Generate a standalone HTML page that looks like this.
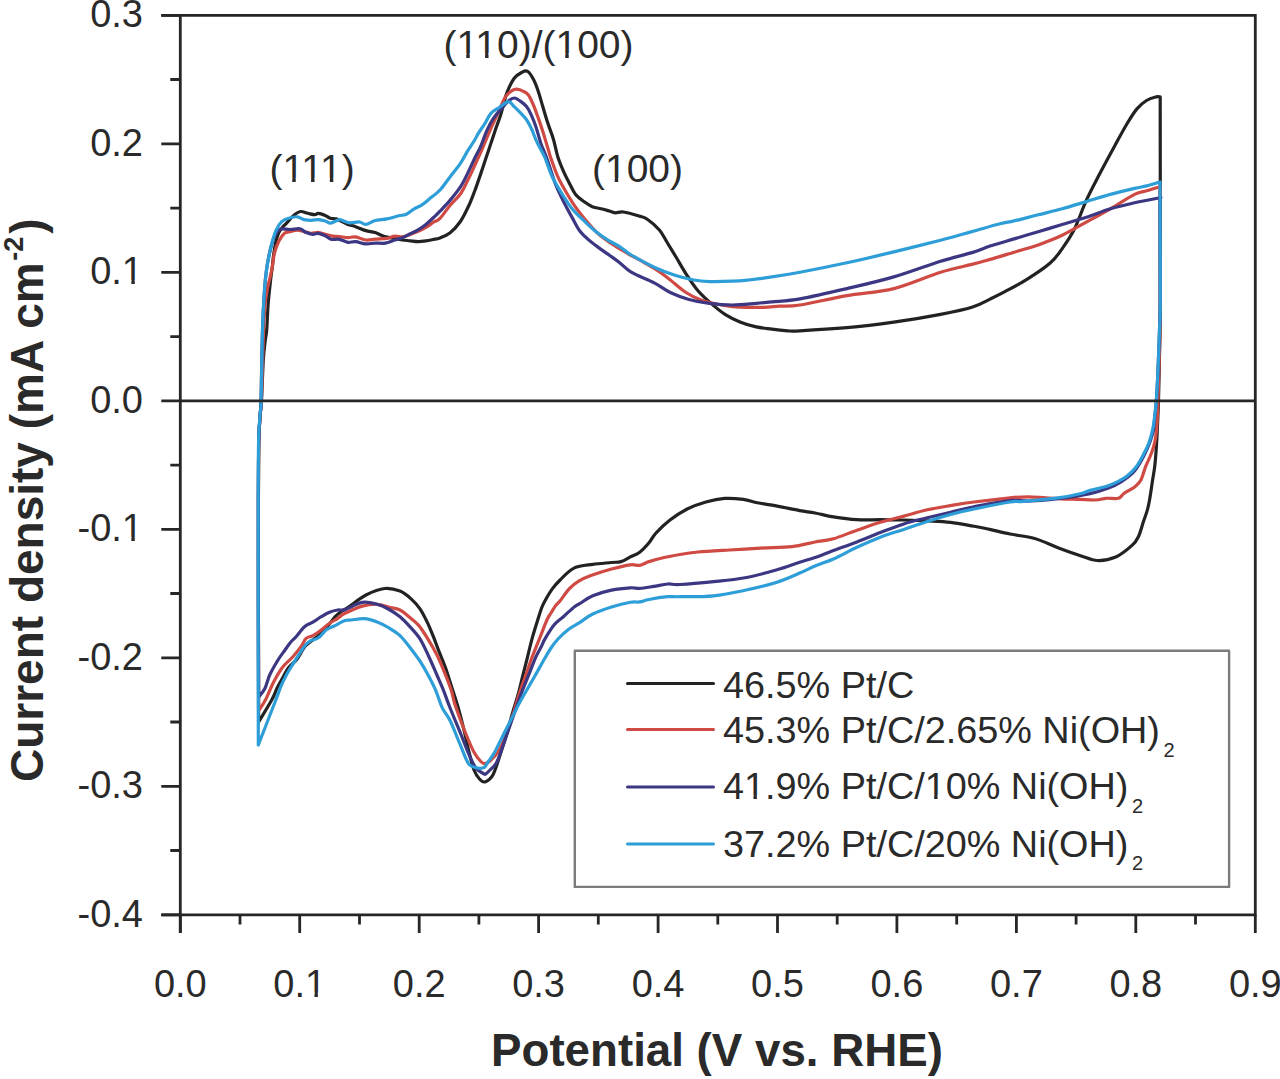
<!DOCTYPE html>
<html><head><meta charset="utf-8"><style>
html,body{margin:0;padding:0;background:#fff;}
svg{display:block;}
text{font-family:"Liberation Sans",sans-serif;fill:#2a2a2a;}
</style></head><body>
<svg width="1280" height="1079" viewBox="0 0 1280 1079">
<rect width="1280" height="1079" fill="#fff"/>
<g fill="none" stroke-linejoin="round" stroke-linecap="round" stroke-width="3.2">
<path d="M258.6,722.0C258.6,701.7 258.4,637.0 258.4,600.0C258.4,563.0 258.3,526.7 258.4,500.0C258.5,473.3 258.5,454.2 258.8,440.0C259.1,425.8 259.8,421.7 260.2,415.0C260.6,408.3 261.0,409.2 261.5,400.0C262.0,390.8 262.7,370.0 263.3,360.0C263.9,350.0 264.7,345.0 265.3,340.0C265.9,335.0 266.2,336.3 266.7,330.0C267.2,323.7 267.6,310.5 268.3,302.2C269.0,293.9 270.0,285.7 270.6,280.0C271.2,274.3 271.7,272.2 272.2,268.0C272.7,263.8 273.0,259.2 273.6,255.0C274.2,250.8 274.8,246.7 275.6,243.0C276.4,239.3 277.4,235.7 278.6,233.0C279.9,230.3 281.8,228.2 283.1,226.6C284.4,224.9 284.8,225.0 286.6,223.1C288.4,221.2 291.4,217.3 293.7,215.4C296.0,213.5 298.4,211.8 300.7,211.5C303.0,211.2 305.3,212.8 307.7,213.3C310.1,213.8 313.0,214.7 314.8,214.7C316.6,214.7 316.6,213.2 318.3,213.3C320.1,213.4 323.3,214.6 325.3,215.4C327.3,216.2 328.4,217.6 330.2,218.2C332.0,218.8 334.1,218.4 335.9,218.9C337.7,219.4 339.0,220.1 341.0,221.0C343.0,221.9 345.4,223.5 347.8,224.4C350.2,225.3 352.6,225.7 355.6,226.7C358.6,227.7 362.5,229.6 365.8,230.6C369.1,231.6 372.1,231.6 375.2,232.6C378.3,233.6 381.2,235.5 384.5,236.5C387.8,237.5 391.7,237.8 394.7,238.4C397.7,239.0 399.9,239.6 402.5,240.0C405.1,240.4 407.7,240.5 410.3,240.8C412.9,241.1 415.5,241.6 418.1,241.6C420.7,241.6 423.4,241.2 425.9,240.8C428.4,240.5 430.6,240.0 433.0,239.5C435.4,239.0 437.1,239.0 440.0,237.9C442.9,236.8 446.8,235.5 450.2,232.8C453.6,230.1 457.3,225.9 460.4,221.5C463.4,217.1 466.1,211.4 468.5,206.3C470.9,201.2 472.6,196.4 474.7,191.0C476.8,185.6 478.9,179.0 480.8,173.6C482.7,168.2 484.2,163.4 485.9,158.3C487.6,153.2 489.5,147.7 491.0,143.1C492.5,138.5 493.4,135.7 495.0,130.9C496.6,126.1 498.9,120.5 500.9,114.2C502.8,108.0 504.5,99.4 506.7,93.4C508.9,87.4 511.7,81.8 514.2,78.3C516.7,74.8 519.5,73.7 521.7,72.5C523.9,71.3 525.5,70.2 527.5,71.3C529.5,72.4 531.6,75.8 533.4,79.2C535.2,82.6 536.9,87.2 538.4,91.7C539.9,96.2 541.1,100.8 542.6,105.9C544.1,111.1 545.8,117.0 547.6,122.6C549.4,128.1 551.7,133.5 553.4,139.2C555.1,144.9 556.1,151.4 557.8,156.7C559.5,162.0 561.4,166.5 563.4,171.1C565.4,175.7 568.0,180.6 570.0,184.5C572.0,188.4 573.4,191.7 575.6,194.5C577.8,197.3 580.6,199.2 583.4,201.2C586.2,203.2 589.1,205.4 592.3,206.7C595.4,208.0 599.3,208.2 602.3,209.0C605.3,209.8 607.9,210.6 610.1,211.2C612.3,211.8 613.4,212.7 615.6,212.8C617.8,212.9 619.5,211.5 623.4,212.0C627.3,212.5 635.1,214.8 639.0,216.0C642.9,217.2 643.5,216.7 646.9,219.0C650.3,221.3 656.0,226.1 659.4,230.0C662.8,233.9 664.3,237.8 667.2,242.5C670.1,247.2 673.5,252.8 676.6,258.0C679.7,263.2 682.6,268.5 686.0,273.8C689.4,279.0 693.0,284.7 696.9,289.4C700.8,294.1 704.7,297.7 709.4,301.9C714.1,306.1 719.8,311.0 725.0,314.4C730.2,317.8 735.4,320.1 740.6,322.2C745.8,324.3 751.0,325.7 756.2,326.9C761.5,328.1 766.7,328.5 771.9,329.2C777.1,329.9 782.8,330.5 787.5,330.8C792.2,331.1 790.1,331.3 800.0,330.8C809.9,330.3 831.3,329.1 846.9,327.7C862.5,326.3 878.1,324.4 893.8,322.2C909.4,320.0 927.6,316.9 940.6,314.4C953.6,311.9 963.7,309.9 971.9,307.3C980.1,304.8 984.6,301.7 990.0,299.1C995.4,296.5 998.4,295.1 1004.4,291.9C1010.4,288.7 1018.5,284.7 1026.1,279.9C1033.7,275.1 1044.2,268.2 1050.2,263.0C1056.2,257.8 1058.2,254.2 1062.2,248.6C1066.2,243.0 1070.3,237.3 1074.3,229.3C1078.3,221.3 1082.3,209.2 1086.3,200.4C1090.3,191.6 1093.6,185.5 1098.4,176.3C1103.2,167.1 1110.4,153.8 1115.2,145.0C1120.0,136.2 1123.7,129.3 1127.3,123.3C1130.9,117.3 1133.7,112.7 1136.9,108.9C1140.1,105.1 1143.3,102.5 1146.5,100.5C1149.7,98.5 1153.8,97.5 1156.1,96.9C1158.4,96.3 1159.5,96.9 1160.2,96.9C1160.2,130.8 1160.4,257.8 1160.3,300.0C1160.2,342.2 1159.9,333.3 1159.6,350.0C1159.3,366.7 1158.8,387.5 1158.5,400.0C1158.2,412.5 1157.8,418.1 1157.5,425.0C1157.2,431.9 1157.1,435.1 1156.7,441.7C1156.3,448.3 1155.6,458.5 1154.9,464.9C1154.2,471.3 1153.4,474.7 1152.6,480.0C1151.8,485.3 1150.9,491.8 1150.1,496.7C1149.3,501.6 1148.7,505.0 1147.6,509.2C1146.5,513.4 1144.9,517.1 1143.4,521.7C1141.9,526.3 1140.3,532.8 1138.4,536.7C1136.5,540.7 1135.8,542.0 1132.0,545.4C1128.2,548.8 1121.6,554.5 1115.8,557.0C1110.0,559.5 1103.1,560.7 1097.3,560.5C1091.5,560.3 1087.7,558.0 1081.1,555.9C1074.5,553.8 1065.6,550.6 1057.9,547.7C1050.2,544.8 1042.7,540.8 1034.7,538.5C1026.7,536.2 1017.5,535.5 1010.0,534.0C1002.5,532.5 995.7,530.7 989.7,529.4C983.7,528.1 980.5,527.4 974.0,526.2C967.5,525.1 958.4,523.2 950.6,522.3C942.8,521.4 935.0,521.2 927.2,520.8C919.4,520.4 911.6,520.2 903.8,520.0C895.9,519.8 888.1,519.8 880.3,519.7C872.5,519.7 864.7,520.2 856.9,519.7C849.1,519.2 840.4,518.0 833.4,516.9C826.4,515.8 820.6,514.0 815.0,513.0C809.4,511.9 806.2,511.8 799.7,510.6C793.2,509.4 783.3,507.2 776.2,505.9C769.2,504.6 763.0,503.9 757.5,502.8C752.0,501.7 748.9,500.1 743.4,499.4C737.9,498.7 731.0,498.0 724.7,498.4C718.5,498.8 712.1,500.2 705.9,502.0C699.6,503.8 693.2,506.0 687.2,509.0C681.2,512.0 675.2,516.0 670.0,520.0C664.8,524.0 659.5,529.2 656.0,533.0C652.5,536.8 651.7,539.6 649.0,542.8C646.3,546.0 642.8,549.9 639.7,552.2C636.6,554.6 633.4,555.3 630.3,556.9C627.2,558.5 624.1,560.7 621.0,561.6C617.9,562.5 616.2,562.0 611.5,562.5C606.8,563.0 599.0,563.5 592.8,564.4C586.5,565.3 579.5,565.5 574.0,568.1C568.5,570.7 563.7,576.5 560.1,580.0C556.5,583.5 554.5,585.9 552.3,588.9C550.1,591.9 548.4,594.8 546.7,597.8C545.0,600.8 543.5,603.3 542.0,607.0C540.5,610.7 539.4,614.7 537.7,620.0C536.1,625.3 533.8,632.4 532.1,638.6C530.4,644.8 529.0,650.9 527.5,657.1C526.0,663.3 524.3,669.5 522.8,675.7C521.2,681.9 519.9,688.0 518.2,694.2C516.5,700.4 514.5,706.3 512.6,712.8C510.7,719.3 508.9,726.6 507.0,733.0C505.1,739.4 503.5,744.4 501.2,751.4C498.9,758.4 495.7,769.7 493.0,774.8C490.3,779.9 487.1,781.2 484.9,781.9C482.6,782.6 481.3,781.0 479.5,779.0C477.7,777.0 475.8,774.5 474.0,770.0C472.2,765.5 470.7,758.7 469.0,752.0C467.3,745.3 465.8,737.5 464.0,730.0C462.2,722.5 460.0,714.0 458.0,707.0C456.0,700.0 453.9,694.0 452.0,688.0C450.1,682.0 448.1,675.5 446.7,671.2C445.3,666.9 444.7,665.6 443.4,662.3C442.1,659.0 440.6,655.5 438.9,651.2C437.2,646.9 435.2,641.3 433.4,636.7C431.5,632.1 430.0,628.0 427.8,623.4C425.6,618.8 422.8,613.0 420.0,608.9C417.2,604.8 414.4,601.9 411.1,598.9C407.8,595.9 404.4,592.8 400.0,591.1C395.6,589.4 390.3,587.9 384.6,588.5C378.9,589.1 371.8,592.1 366.0,595.0C360.2,597.9 354.2,603.2 350.0,606.0C345.8,608.8 343.1,610.2 340.6,612.0C338.1,613.8 337.2,614.5 335.0,616.9C332.8,619.3 330.2,623.3 327.3,626.5C324.4,629.7 321.3,632.9 317.7,636.1C314.1,639.3 309.0,642.0 305.6,645.8C302.2,649.6 300.0,655.4 297.2,659.0C294.4,662.6 291.3,664.0 288.7,667.5C286.1,671.0 283.4,676.6 281.5,680.0C279.6,683.4 278.8,684.5 277.2,687.8C275.6,691.1 274.8,694.3 271.7,700.0C268.6,705.7 260.8,718.3 258.6,722.0" stroke="#222"/>
<path d="M258.6,711.0C258.6,692.5 258.4,635.2 258.4,600.0C258.4,564.8 258.3,526.7 258.4,500.0C258.5,473.3 258.5,454.2 258.8,440.0C259.1,425.8 259.8,421.7 260.2,415.0C260.6,408.3 261.0,412.5 261.5,400.0C262.0,387.5 262.6,355.8 263.2,340.0C263.8,324.2 264.3,313.7 265.0,305.0C265.7,296.3 266.6,292.7 267.5,288.0C268.4,283.3 269.3,280.8 270.2,277.0C271.1,273.2 271.9,269.0 272.6,265.0C273.3,261.0 273.4,257.0 274.5,253.0C275.6,249.0 277.2,244.4 278.9,241.1C280.6,237.8 282.6,234.9 284.5,233.3C286.4,231.7 288.1,232.1 290.2,231.6C292.3,231.1 294.9,230.2 297.2,230.2C299.5,230.2 301.8,231.1 304.2,231.6C306.6,232.1 308.9,233.2 311.3,233.3C313.7,233.4 316.0,232.1 318.3,232.3C320.6,232.5 323.0,233.8 325.3,234.4C327.6,235.0 330.0,235.8 332.4,236.1C334.8,236.4 336.8,236.2 339.4,236.5C342.0,236.8 345.1,237.6 347.8,237.7C350.5,237.8 352.6,236.5 355.6,236.9C358.6,237.3 362.5,239.6 365.8,240.0C369.1,240.4 371.7,239.5 375.2,239.2C378.7,238.9 383.6,238.9 386.9,238.4C390.1,237.9 392.1,236.3 394.7,236.1C397.3,235.8 399.9,237.2 402.5,236.9C405.1,236.6 407.7,235.4 410.3,234.5C412.9,233.6 415.5,232.6 418.1,231.4C420.7,230.2 423.3,229.1 425.9,227.5C428.5,225.9 431.4,223.5 433.8,222.0C436.1,220.5 437.3,221.2 440.0,218.4C442.7,215.6 446.8,209.3 450.2,205.2C453.6,201.1 457.5,198.1 460.4,194.0C463.3,189.9 465.1,185.6 467.5,180.8C469.9,176.1 472.5,170.3 474.7,165.5C476.9,160.7 478.9,156.4 480.8,152.2C482.7,147.9 484.2,144.0 485.9,140.0C487.6,136.0 489.0,132.7 490.9,128.4C492.8,124.1 495.1,119.4 497.5,114.2C499.9,109.0 502.6,101.4 505.0,97.5C507.4,93.6 509.8,92.3 511.7,90.9C513.6,89.5 514.8,89.1 516.7,89.2C518.7,89.3 521.5,90.3 523.4,91.3C525.3,92.3 526.7,92.7 528.4,95.0C530.1,97.3 531.7,101.1 533.4,105.0C535.1,108.9 536.7,113.7 538.4,118.4C540.1,123.1 541.7,128.1 543.4,133.4C545.1,138.7 547.1,145.8 548.4,150.0C549.7,154.2 549.5,154.5 551.1,158.9C552.7,163.3 555.4,171.3 557.8,176.7C560.2,182.1 562.8,186.4 565.6,191.2C568.4,196.0 571.2,200.8 574.5,205.6C577.8,210.4 581.9,215.6 585.6,220.1C589.3,224.6 593.0,228.8 596.7,232.3C600.4,235.8 604.0,238.4 607.9,241.2C611.8,244.0 616.1,246.6 620.0,249.0C623.9,251.4 627.1,253.2 631.2,255.5C635.4,257.8 640.6,260.5 645.0,263.0C649.4,265.5 653.6,267.8 657.8,270.6C662.0,273.4 665.6,276.4 670.3,280.0C675.0,283.6 680.8,289.1 686.0,292.5C691.2,295.9 696.4,298.4 701.6,300.3C706.8,302.2 712.0,303.1 717.2,304.2C722.4,305.2 727.6,306.1 732.8,306.6C738.0,307.1 743.2,307.2 748.4,307.3C753.6,307.4 758.8,307.5 764.0,307.3C769.2,307.1 773.7,306.6 779.7,306.2C785.7,305.9 788.8,306.8 800.0,305.0C811.2,303.2 831.3,298.3 846.9,295.6C862.5,292.9 878.1,292.5 893.8,288.6C909.4,284.7 927.6,276.2 940.6,272.2C953.6,268.2 963.7,266.5 971.9,264.4C980.1,262.3 983.0,261.4 990.0,259.4C997.0,257.4 1006.1,254.6 1014.1,252.2C1022.1,249.8 1030.2,247.7 1038.2,244.9C1046.2,242.1 1054.2,239.1 1062.2,235.3C1070.2,231.5 1078.3,226.5 1086.3,222.1C1094.3,217.7 1102.4,213.4 1110.4,208.8C1118.4,204.2 1128.5,197.4 1134.5,194.4C1140.5,191.4 1142.5,192.0 1146.5,190.8C1150.5,189.6 1156.3,187.8 1158.6,187.2C1160.8,186.6 1159.8,187.0 1160.0,187.0C1160.0,205.8 1160.3,274.5 1160.3,300.0C1160.3,325.5 1160.1,326.7 1159.8,340.0C1159.5,353.3 1158.9,368.4 1158.6,380.0C1158.2,391.6 1158.0,401.3 1157.7,409.3C1157.4,417.3 1157.2,422.4 1156.7,427.8C1156.2,433.2 1155.8,437.4 1154.9,441.7C1154.0,446.0 1152.8,449.6 1151.2,453.8C1149.7,458.0 1147.3,462.3 1145.6,466.7C1143.9,471.1 1142.7,476.7 1140.9,480.0C1139.1,483.3 1137.8,484.5 1135.0,486.7C1132.2,488.9 1127.0,491.4 1124.2,493.3C1121.4,495.2 1121.5,497.5 1118.4,498.3C1115.4,499.1 1109.8,498.0 1105.9,498.3C1102.0,498.6 1101.1,499.9 1095.0,500.0C1088.9,500.1 1077.6,499.5 1069.5,499.1C1061.4,498.8 1053.2,498.3 1046.3,497.9C1039.3,497.5 1033.8,496.8 1027.8,496.8C1021.8,496.8 1019.0,496.9 1010.0,497.8C1001.0,498.7 983.9,500.7 974.0,502.0C964.1,503.3 958.4,504.3 950.6,505.6C942.8,506.9 935.0,508.1 927.2,509.8C919.4,511.6 911.6,514.0 903.8,516.1C895.9,518.2 888.1,519.9 880.3,522.3C872.5,524.6 864.7,527.5 856.9,530.2C849.1,532.9 840.4,536.8 833.4,538.8C826.4,540.7 821.9,540.7 815.0,542.0C808.1,543.3 801.0,545.6 791.9,546.6C782.8,547.6 771.0,547.5 760.6,548.1C750.2,548.7 739.8,549.4 729.4,550.0C719.0,550.6 706.3,551.2 698.1,552.0C689.9,552.8 685.8,553.5 680.0,554.5C674.2,555.5 668.3,556.6 663.1,557.8C657.9,559.0 652.9,560.4 649.0,561.6C645.1,562.9 642.8,564.8 639.7,565.3C636.6,565.8 635.0,564.2 630.3,564.8C625.6,565.4 618.1,567.2 611.5,569.0C604.9,570.8 596.4,573.6 590.9,575.6C585.4,577.6 582.3,579.0 578.7,581.2C575.1,583.4 572.5,585.4 569.4,588.7C566.3,592.0 562.3,598.1 560.0,600.9C557.7,603.7 557.1,603.6 555.6,605.6C554.1,607.6 552.5,610.6 551.0,613.0C549.5,615.4 548.8,615.7 546.9,620.0C545.0,624.3 542.0,632.4 539.5,638.6C537.0,644.8 534.4,650.9 532.1,657.1C529.8,663.3 527.8,669.5 525.6,675.7C523.4,681.9 521.1,688.0 519.1,694.2C517.1,700.4 515.8,706.0 513.6,712.8C511.4,719.6 508.6,728.5 506.0,735.0C503.4,741.5 500.7,747.7 498.0,752.0C495.3,756.3 492.2,759.1 490.0,761.0C487.8,762.9 486.4,763.5 484.9,763.6C483.4,763.7 482.7,763.5 480.8,761.5C478.9,759.5 476.2,756.1 473.6,751.4C471.1,746.6 468.6,740.6 465.5,733.0C462.4,725.4 457.7,712.6 455.3,705.5C452.9,698.4 453.0,695.6 451.2,690.1C449.4,684.6 446.9,678.2 444.5,672.3C442.1,666.4 439.5,660.1 436.7,654.5C433.9,648.9 430.8,643.7 427.8,638.9C424.8,634.1 422.0,629.3 418.9,625.6C415.8,621.9 412.0,619.3 408.9,616.7C405.8,614.1 403.4,611.6 400.0,610.0C396.6,608.4 392.1,608.0 388.3,607.0C384.5,606.0 381.5,604.4 377.2,604.3C372.9,604.1 367.7,604.6 362.3,606.1C356.9,607.6 349.1,611.3 345.0,613.3C340.9,615.3 340.4,616.6 337.8,618.3C335.2,620.0 332.3,621.3 329.5,623.3C326.7,625.2 324.0,628.0 321.2,630.0C318.4,632.0 315.3,634.2 312.8,635.6C310.3,637.0 308.0,636.7 306.1,638.4C304.2,640.1 303.8,642.6 301.7,645.6C299.6,648.6 296.1,653.1 293.3,656.2C290.5,659.4 287.1,662.3 285.0,664.5C282.9,666.7 282.9,666.3 281.0,669.3C279.1,672.2 276.1,677.1 273.5,682.2C270.9,687.3 267.9,695.2 265.4,700.0C262.9,704.8 259.7,709.2 258.6,711.0" stroke="#d04a44"/>
<path d="M258.6,697.0C258.6,680.8 258.4,632.8 258.4,600.0C258.4,567.2 258.3,526.7 258.4,500.0C258.5,473.3 258.5,454.2 258.8,440.0C259.1,425.8 259.7,421.7 260.1,415.0C260.5,408.3 260.6,414.2 261.0,400.0C261.4,385.8 261.9,348.3 262.5,330.0C263.1,311.7 263.8,300.0 264.5,290.0C265.2,280.0 265.7,275.8 266.5,270.0C267.3,264.2 268.1,259.7 269.1,255.0C270.1,250.3 271.4,245.4 272.4,242.0C273.4,238.6 274.3,236.4 275.3,234.5C276.3,232.6 277.2,231.4 278.3,230.5C279.4,229.6 279.7,229.0 281.7,228.8C283.7,228.6 287.1,229.5 290.2,229.5C293.2,229.5 297.4,228.3 300.0,228.8C302.6,229.3 303.5,231.4 305.6,232.3C307.7,233.2 310.6,234.2 312.7,234.4C314.8,234.6 316.2,233.1 318.3,233.3C320.4,233.5 323.2,234.8 325.3,235.8C327.4,236.8 328.6,238.7 331.0,239.3C333.4,239.9 336.6,238.8 339.4,239.3C342.2,239.8 345.1,241.9 347.8,242.3C350.5,242.7 352.6,241.3 355.6,241.6C358.6,241.9 362.5,243.7 365.8,243.9C369.1,244.2 371.9,243.2 375.2,243.1C378.4,243.0 382.1,243.6 385.3,243.1C388.6,242.6 391.8,240.9 394.7,240.0C397.6,239.1 399.9,238.7 402.5,237.7C405.1,236.7 407.7,235.1 410.3,233.8C412.9,232.4 415.5,231.4 418.1,229.8C420.7,228.2 423.3,226.5 425.9,224.4C428.5,222.3 431.4,219.5 433.8,217.3C436.1,215.1 437.3,214.1 440.0,211.2C442.7,208.3 446.8,204.1 450.2,200.1C453.6,196.1 457.5,191.3 460.4,186.9C463.3,182.5 465.1,178.4 467.5,173.6C469.9,168.8 472.5,162.9 474.7,158.3C476.9,153.7 478.8,150.7 480.8,146.1C482.8,141.5 484.6,135.5 486.7,130.9C488.8,126.3 490.9,122.2 493.4,118.4C495.9,114.7 499.2,111.3 501.7,108.4C504.2,105.5 506.3,102.6 508.4,100.9C510.5,99.2 512.3,98.0 514.2,98.0C516.1,98.0 517.9,99.5 520.0,100.9C522.1,102.4 524.9,104.5 526.7,106.7C528.5,108.9 529.4,110.9 530.9,114.2C532.4,117.5 534.2,121.8 535.9,126.7C537.6,131.6 539.1,138.2 540.9,143.4C542.7,148.6 544.2,151.2 546.7,158.0C549.2,164.8 552.8,177.3 555.6,184.5C558.4,191.7 560.6,195.6 563.4,201.2C566.2,206.8 569.5,212.9 572.3,217.9C575.1,222.9 577.2,227.5 580.0,231.2C582.8,234.9 585.8,237.3 589.0,240.1C592.2,242.9 595.5,245.3 599.0,247.9C602.5,250.5 606.6,253.2 610.1,255.7C613.6,258.2 616.5,260.2 620.0,263.0C623.5,265.8 625.5,268.8 631.2,272.2C637.0,275.6 648.2,279.7 654.7,283.1C661.2,286.5 664.6,289.8 670.3,292.5C676.0,295.2 682.5,297.7 689.0,299.5C695.5,301.3 702.1,302.5 709.4,303.4C716.7,304.3 725.0,305.0 732.8,305.0C740.6,305.0 749.7,303.9 756.2,303.4C762.8,302.9 764.6,302.7 771.9,301.9C779.2,301.1 787.5,301.0 800.0,298.8C812.5,296.5 831.3,292.2 846.9,288.6C862.5,285.0 878.1,281.5 893.8,276.9C909.4,272.3 927.6,265.3 940.6,261.2C953.6,257.2 963.7,255.1 971.9,252.6C980.1,250.1 983.0,248.4 990.0,246.1C997.0,243.8 1006.1,241.3 1014.1,238.9C1022.1,236.5 1030.2,234.1 1038.2,231.7C1046.2,229.3 1054.2,226.9 1062.2,224.5C1070.2,222.1 1078.3,219.9 1086.3,217.3C1094.3,214.7 1102.4,211.2 1110.4,208.8C1118.4,206.4 1126.5,204.6 1134.5,202.8C1142.5,201.0 1154.3,198.8 1158.6,198.0C1162.8,197.2 1159.8,198.0 1160.0,198.0C1160.0,215.0 1160.4,278.0 1160.3,300.0C1160.2,322.0 1159.9,318.3 1159.5,330.0C1159.1,341.7 1158.5,358.2 1158.0,370.0C1157.5,381.8 1156.9,392.7 1156.3,401.0C1155.7,409.3 1155.0,414.8 1154.5,420.0C1154.0,425.2 1154.2,427.7 1153.0,432.4C1151.8,437.1 1149.7,443.1 1147.5,448.2C1145.3,453.3 1142.5,458.8 1140.0,463.0C1137.5,467.2 1135.7,470.1 1132.6,473.2C1129.5,476.3 1125.5,479.1 1121.5,481.6C1117.5,484.1 1113.8,486.0 1108.5,488.0C1103.2,490.0 1098.1,491.9 1090.0,493.6C1081.9,495.4 1070.0,497.3 1060.0,498.5C1050.0,499.7 1038.3,500.7 1030.0,501.0C1021.7,501.3 1019.3,499.6 1010.0,500.5C1000.7,501.4 983.9,504.8 974.0,506.7C964.1,508.6 958.4,510.4 950.6,512.2C942.8,514.0 935.0,515.8 927.2,517.7C919.4,519.7 911.6,521.4 903.8,523.9C895.9,526.4 888.1,529.5 880.3,532.5C872.5,535.5 864.7,538.9 856.9,541.9C849.1,544.9 840.4,547.9 833.4,550.5C826.4,553.1 820.6,555.5 815.0,557.5C809.4,559.5 806.2,560.1 799.7,562.2C793.2,564.3 785.4,567.4 776.2,570.0C767.1,572.6 755.4,575.8 745.0,577.8C734.6,579.8 724.6,580.6 713.8,581.7C702.9,582.8 687.7,584.1 680.0,584.5C672.3,584.9 672.2,583.7 667.8,584.0C663.4,584.3 658.4,585.7 653.7,586.4C649.0,587.1 643.6,588.1 639.7,588.3C635.8,588.5 635.0,587.5 630.3,587.8C625.6,588.1 617.8,588.8 611.5,590.1C605.2,591.4 598.0,593.6 592.8,595.8C587.5,598.0 583.0,601.6 580.0,603.4C577.0,605.2 577.3,604.5 574.5,606.7C571.7,608.9 566.8,613.7 563.4,616.7C560.0,619.7 557.4,620.9 554.4,624.5C551.4,628.1 547.3,634.9 545.1,638.6C542.9,642.3 542.8,643.6 541.2,646.7C539.7,649.8 537.9,652.3 535.8,657.1C533.7,661.9 530.9,669.5 528.4,675.7C525.9,681.9 523.3,688.0 521.0,694.2C518.7,700.4 517.0,705.8 514.5,712.8C512.0,719.8 509.2,728.0 506.3,736.1C503.4,744.2 499.8,755.9 497.1,761.5C494.4,767.1 491.9,768.0 490.0,770.0C488.1,772.0 486.9,773.2 485.9,773.8C484.9,774.4 485.5,774.8 483.8,773.8C482.1,772.8 478.2,771.1 475.7,767.7C473.1,764.3 471.1,759.2 468.5,753.4C465.9,747.6 463.6,740.8 460.4,733.0C457.2,725.2 452.3,713.6 449.5,706.5C446.7,699.4 445.5,695.4 443.4,690.1C441.3,684.8 439.1,680.1 436.7,674.5C434.3,668.9 431.7,662.6 428.9,656.7C426.1,650.8 423.3,644.1 420.0,638.9C416.7,633.7 412.2,629.3 408.9,625.6C405.6,621.9 403.4,619.5 400.0,616.7C396.6,613.9 392.1,611.1 388.3,609.0C384.5,606.9 381.5,605.4 377.2,604.3C372.9,603.2 367.7,601.5 362.3,602.4C356.9,603.3 349.1,608.3 345.0,609.6C340.9,610.9 340.4,609.6 337.8,610.0C335.2,610.4 332.3,611.1 329.5,612.2C326.7,613.3 324.0,615.0 321.2,616.7C318.4,618.4 315.6,620.5 312.8,622.2C310.0,623.9 307.3,624.3 304.5,626.7C301.7,629.1 298.4,634.1 296.1,636.7C293.8,639.3 292.5,640.1 290.6,642.3C288.8,644.5 287.1,647.0 285.0,650.0C282.9,653.0 280.5,655.9 278.0,660.0C275.5,664.1 272.0,670.1 269.8,674.8C267.6,679.5 266.8,684.7 264.9,688.4C263.0,692.1 259.7,695.6 258.6,697.0" stroke="#3c3782"/>
<path d="M258.3,745.0C258.3,720.8 258.2,640.8 258.2,600.0C258.2,559.2 258.1,526.7 258.2,500.0C258.3,473.3 258.3,454.2 258.6,440.0C258.9,425.8 259.6,421.7 260.0,415.0C260.4,408.3 260.7,414.2 261.1,400.0C261.5,385.8 261.9,348.3 262.5,330.0C263.1,311.7 263.8,300.0 264.5,290.0C265.2,280.0 265.7,275.8 266.5,270.0C267.3,264.2 268.1,259.9 269.1,255.0C270.1,250.1 271.4,244.8 272.6,240.7C273.8,236.6 274.6,233.4 276.1,230.2C277.6,227.0 279.6,223.7 281.7,221.7C283.8,219.7 286.2,219.0 288.8,218.2C291.4,217.4 294.6,216.6 297.2,216.8C299.8,217.0 301.8,219.0 304.2,219.6C306.6,220.2 308.9,220.3 311.3,220.3C313.7,220.3 316.0,219.5 318.3,219.6C320.6,219.7 323.3,220.4 325.3,221.0C327.3,221.6 328.4,223.1 330.2,223.1C332.0,223.1 334.3,221.6 335.9,221.0C337.5,220.4 337.8,219.4 340.0,219.7C342.2,220.0 346.1,222.4 349.4,222.8C352.6,223.2 356.8,221.7 359.5,222.0C362.2,222.3 363.2,224.7 365.8,224.4C368.4,224.2 371.7,221.4 375.2,220.5C378.7,219.6 383.0,219.7 386.9,218.9C390.8,218.1 395.4,216.6 398.6,215.8C401.9,215.0 403.8,215.4 406.4,214.2C409.0,213.0 411.6,210.3 414.2,208.8C416.8,207.2 419.4,206.5 422.0,204.8C424.6,203.1 426.8,201.1 429.8,198.6C432.8,196.1 436.6,193.7 440.0,190.0C443.4,186.3 446.8,181.1 450.2,176.7C453.6,172.3 457.5,167.7 460.4,163.4C463.3,159.2 465.1,155.1 467.5,151.2C469.9,147.3 472.9,143.0 474.7,140.0C476.5,137.0 476.6,136.2 478.3,133.4C480.0,130.6 482.9,126.7 485.0,123.4C487.1,120.1 488.5,116.1 490.9,113.4C493.3,110.8 496.3,109.5 499.2,107.5C502.1,105.5 505.9,101.8 508.4,101.7C510.9,101.6 512.0,104.6 514.2,106.7C516.4,108.8 519.6,112.0 521.7,114.2C523.8,116.4 525.0,117.5 526.7,120.0C528.4,122.5 530.0,125.6 531.7,129.2C533.4,132.8 534.6,137.1 536.7,141.7C538.8,146.3 541.9,150.9 544.5,156.7C547.1,162.5 549.4,170.8 552.2,176.7C555.0,182.6 557.8,186.9 561.1,192.3C564.5,197.7 568.2,204.0 572.3,209.0C576.4,214.0 581.5,218.4 585.6,222.3C589.7,226.2 593.0,229.3 596.7,232.3C600.4,235.3 604.0,237.7 607.9,240.1C611.8,242.5 616.1,244.3 620.0,246.8C623.9,249.3 625.5,251.6 631.2,255.0C637.0,258.4 647.4,264.1 654.7,267.5C662.0,270.9 668.5,273.2 675.0,275.3C681.5,277.4 688.0,278.9 693.8,280.0C699.5,281.1 702.9,281.4 709.4,281.6C715.9,281.8 726.3,281.5 732.8,281.2C739.3,281.0 741.9,280.7 748.4,280.0C754.9,279.3 763.3,278.2 771.9,276.9C780.5,275.6 787.5,274.5 800.0,272.2C812.5,269.9 831.3,266.2 846.9,262.8C862.5,259.4 878.1,255.7 893.8,251.9C909.4,248.1 927.6,243.6 940.6,240.2C953.6,236.8 962.0,234.3 971.9,231.6C981.8,228.9 993.0,225.5 1000.0,223.8C1007.0,222.0 1007.7,222.4 1014.1,220.9C1020.5,219.4 1030.2,216.8 1038.2,214.8C1046.2,212.8 1054.2,211.0 1062.2,208.8C1070.2,206.6 1078.3,204.0 1086.3,201.6C1094.3,199.2 1102.4,196.6 1110.4,194.4C1118.4,192.2 1128.5,189.8 1134.5,188.4C1140.5,187.0 1142.5,186.9 1146.5,185.9C1150.5,184.9 1156.3,183.0 1158.6,182.3C1160.8,181.7 1159.8,182.1 1160.0,182.0C1160.0,201.7 1160.4,275.3 1160.3,300.0C1160.2,324.7 1159.9,318.3 1159.5,330.0C1159.1,341.7 1158.5,358.2 1158.0,370.0C1157.5,381.8 1156.8,393.7 1156.3,401.0C1155.8,408.3 1155.5,409.4 1154.9,413.9C1154.4,418.4 1153.9,423.2 1153.0,427.8C1152.1,432.4 1150.8,437.4 1149.3,441.7C1147.8,446.0 1146.0,449.6 1143.8,453.8C1141.6,458.0 1139.1,463.0 1136.3,466.7C1133.5,470.4 1130.2,473.5 1127.1,476.0C1124.0,478.5 1121.2,479.9 1117.8,481.6C1114.4,483.3 1111.3,484.7 1106.7,486.2C1102.1,487.7 1094.3,489.2 1090.0,490.4C1085.7,491.6 1086.4,492.2 1081.1,493.5C1075.8,494.8 1067.6,496.6 1057.9,497.9C1048.2,499.2 1031.2,500.7 1023.2,501.4C1015.2,502.1 1018.2,500.7 1010.0,502.0C1001.8,503.3 983.9,506.9 974.0,509.0C964.1,511.1 958.4,512.4 950.6,514.5C942.8,516.6 935.0,519.1 927.2,521.6C919.4,524.1 911.6,526.8 903.8,529.4C895.9,532.0 888.1,534.2 880.3,537.2C872.5,540.2 864.7,543.7 856.9,547.3C849.1,550.9 840.4,555.9 833.4,559.0C826.4,562.1 820.6,563.6 815.0,566.0C809.4,568.4 806.2,570.4 799.7,573.1C793.2,575.9 785.4,579.6 776.2,582.5C767.1,585.4 755.4,588.1 745.0,590.3C734.6,592.5 724.6,594.7 713.8,595.8C702.9,596.9 687.7,596.6 680.0,596.7C672.3,596.9 673.0,596.2 667.8,596.7C662.6,597.2 653.7,598.6 649.0,599.5C644.3,600.4 642.8,601.4 639.7,601.9C636.6,602.4 635.0,601.4 630.3,602.3C625.6,603.1 617.8,605.0 611.5,607.0C605.2,609.0 598.0,611.5 592.8,614.0C587.5,616.5 584.0,619.8 580.0,622.3C576.0,624.8 572.7,626.2 569.0,629.0C565.3,631.8 561.0,635.8 558.0,639.0C555.0,642.2 553.2,644.8 551.0,648.0C548.8,651.2 547.7,653.4 545.0,658.0C542.3,662.6 538.1,670.3 535.0,675.7C531.9,681.1 529.1,685.9 526.5,690.5C523.9,695.1 521.6,698.9 519.1,703.5C516.6,708.1 514.7,712.4 511.7,718.3C508.7,724.2 504.1,733.2 501.2,739.1C498.2,745.0 496.2,749.6 494.0,753.4C491.8,757.2 489.7,759.6 488.0,762.0C486.3,764.4 485.7,766.8 483.8,767.7C481.9,768.7 479.2,768.4 476.7,767.7C474.1,767.0 471.2,767.4 468.5,763.6C465.8,759.9 463.4,752.3 460.4,745.2C457.3,738.1 453.2,727.0 450.2,720.8C447.2,714.6 444.7,713.0 442.3,707.9C439.9,702.8 438.0,695.7 435.6,690.1C433.2,684.5 430.4,679.3 427.8,674.5C425.2,669.7 422.8,665.5 420.0,661.2C417.2,657.0 414.4,653.3 411.1,649.0C407.8,644.7 403.8,639.2 400.0,635.6C396.2,632.0 392.1,629.8 388.3,627.5C384.5,625.2 381.2,623.4 377.2,621.9C373.2,620.4 368.5,618.9 364.2,618.6C359.9,618.3 354.4,619.7 351.2,620.0C348.0,620.3 347.7,619.7 345.0,620.6C342.3,621.5 338.1,624.1 335.0,625.6C331.9,627.1 329.5,627.5 326.7,629.5C323.9,631.5 321.2,635.9 318.4,637.8C315.6,639.7 312.3,639.7 310.0,641.1C307.7,642.5 306.8,643.2 304.5,646.2C302.2,649.2 298.2,655.8 296.1,659.0C294.0,662.2 293.6,663.0 292.0,665.6C290.4,668.2 288.3,671.4 286.5,674.8C284.7,678.2 282.8,681.8 281.0,686.0C279.2,690.2 279.6,690.2 275.8,700.0C272.0,709.8 261.2,737.5 258.3,745.0" stroke="#2d9ed7"/>
</g>
<g stroke="#262626" stroke-width="2.8" fill="none" stroke-linecap="butt">
<path d="M161.3,15.3H1255.3V914.8H161.3M180.3,15.3V933M180.3,400.8H1255.3"/>
<path d="M161.3,15.3H180.3M161.3,143.8H180.3M161.3,272.3H180.3M161.3,400.8H180.3M161.3,529.3H180.3M161.3,657.8H180.3M161.3,786.3H180.3M161.3,914.8H180.3M170.3,79.5H180.3M170.3,208.1H180.3M170.3,336.6H180.3M170.3,465.1H180.3M170.3,593.5H180.3M170.3,722.0H180.3M170.3,850.5H180.3M180.3,914.8V933M299.7,914.8V933M419.2,914.8V933M538.6,914.8V933M658.1,914.8V933M777.5,914.8V933M896.9,914.8V933M1016.4,914.8V933M1135.8,914.8V933M1255.3,914.8V933M240.0,914.8V924.5M359.5,914.8V924.5M478.9,914.8V924.5M598.3,914.8V924.5M717.8,914.8V924.5M837.2,914.8V924.5M956.7,914.8V924.5M1076.1,914.8V924.5M1195.5,914.8V924.5"/>
</g>
<rect x="574.8" y="650.7" width="654.3" height="236.2" fill="#fff" stroke="#7c7c7c" stroke-width="2.4" stroke-linejoin="round"/>
<g stroke-width="3" stroke-linecap="round">
<path d="M627.5,683.4H713.5" stroke="#222"/>
<path d="M627.5,729.5H713.5" stroke="#d04a44"/>
<path d="M627.5,786.9H713.5" stroke="#3c3782"/>
<path d="M627.5,844.1H713.5" stroke="#2d9ed7"/>
</g>
<g font-size="38">
<text x="143" y="27.3" text-anchor="end">0.3</text><text x="143" y="155.8" text-anchor="end">0.2</text><text x="143" y="284.3" text-anchor="end">0.1</text><text x="143" y="412.8" text-anchor="end">0.0</text><text x="143" y="541.3" text-anchor="end">-0.1</text><text x="143" y="669.8" text-anchor="end">-0.2</text><text x="143" y="798.3" text-anchor="end">-0.3</text><text x="143" y="926.8" text-anchor="end">-0.4</text>
<text x="180.3" y="996.8" text-anchor="middle">0.0</text><text x="299.7" y="996.8" text-anchor="middle">0.1</text><text x="419.2" y="996.8" text-anchor="middle">0.2</text><text x="538.6" y="996.8" text-anchor="middle">0.3</text><text x="658.1" y="996.8" text-anchor="middle">0.4</text><text x="777.5" y="996.8" text-anchor="middle">0.5</text><text x="896.9" y="996.8" text-anchor="middle">0.6</text><text x="1016.4" y="996.8" text-anchor="middle">0.7</text><text x="1135.8" y="996.8" text-anchor="middle">0.8</text><text x="1255.3" y="996.8" text-anchor="middle">0.9</text>
<text x="443.5" y="57.5" font-size="39">(110)/(100)</text>
<text x="269.5" y="182.4" font-size="39">(111)</text>
<text x="592" y="182.4" font-size="39">(100)</text>
<text x="723" y="697.5" font-size="37.8">46.5% Pt/C</text>
<text x="723" y="743.4" font-size="37.8">45.3% Pt/C/2.65% Ni(OH)<tspan font-size="20" dx="3.5" dy="13.5">2</tspan></text>
<text x="723" y="799.4" font-size="37.8">41.9% Pt/C/10% Ni(OH)<tspan font-size="20" dx="3.5" dy="13.5">2</tspan></text>
<text x="723" y="856.7" font-size="37.8">37.2% Pt/C/20% Ni(OH)<tspan font-size="20" dx="3.5" dy="13.5">2</tspan></text>
</g>
<g fill="#fff"><rect x="123.00" y="279.93" width="8.36" height="5.13"/><rect x="134.78" y="279.93" width="8.17" height="5.13"/><rect x="123.00" y="536.93" width="8.36" height="5.13"/><rect x="134.78" y="536.93" width="8.17" height="5.13"/><rect x="306.11" y="992.43" width="8.36" height="5.13"/><rect x="317.89" y="992.43" width="8.17" height="5.13"/><rect x="457.65" y="53.02" width="8.58" height="5.27"/><rect x="469.74" y="53.02" width="8.38" height="5.27"/><rect x="476.45" y="53.02" width="8.58" height="5.27"/><rect x="488.54" y="53.02" width="8.38" height="5.27"/><rect x="556.64" y="53.02" width="8.58" height="5.27"/><rect x="568.73" y="53.02" width="8.38" height="5.27"/><rect x="283.65" y="177.91" width="8.58" height="5.27"/><rect x="295.74" y="177.91" width="8.38" height="5.27"/><rect x="302.45" y="177.91" width="8.58" height="5.27"/><rect x="314.54" y="177.91" width="8.38" height="5.27"/><rect x="321.25" y="177.91" width="8.58" height="5.27"/><rect x="333.34" y="177.91" width="8.38" height="5.27"/><rect x="606.15" y="177.91" width="8.58" height="5.27"/><rect x="618.24" y="177.91" width="8.38" height="5.27"/><rect x="745.15" y="795.05" width="8.32" height="5.10"/><rect x="756.87" y="795.05" width="8.13" height="5.10"/><rect x="925.81" y="795.05" width="8.32" height="5.10"/><rect x="937.52" y="795.05" width="8.13" height="5.10"/></g>
<text x="491" y="1065.8" font-size="45.7" font-weight="bold">Potential (V vs. RHE)</text>
<text transform="translate(43.3,782) rotate(-90)" font-size="46" font-weight="bold">Current density (mA cm<tspan font-size="27" dx="1.5" dy="-20">-2</tspan><tspan dx="3" dy="20">)</tspan></text>
</svg>
</body></html>
